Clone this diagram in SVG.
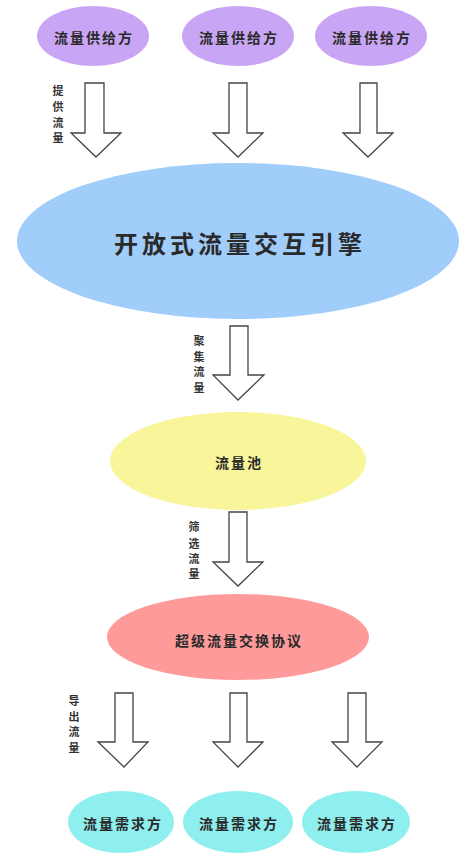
<svg xmlns="http://www.w3.org/2000/svg" width="476" height="862" viewBox="0 0 476 862">
<style>
.t{font-family:"Noto Sans CJK SC","Noto Sans",sans-serif;font-weight:bold;fill:#2a2a2a;text-anchor:middle;dominant-baseline:central}
.lbl{font-family:"Noto Sans CJK SC","Noto Sans",sans-serif;font-weight:bold;fill:#333;font-size:11px;text-anchor:middle;dominant-baseline:central}
.arr{fill:#fff;stroke:#444;stroke-width:1.3;stroke-linejoin:miter}
.sup{fill:#c9a6f5}
.dem{fill:#8eefee}
</style>
<rect width="476" height="862" fill="#fff"/>
<g id="supplier1"><ellipse class="sup" cx="93" cy="36" rx="56" ry="30"/><text class="t" x="94" y="37" font-size="14" letter-spacing="2">流量供给方</text></g>
<g id="supplier2"><ellipse class="sup" cx="238" cy="36" rx="56" ry="30"/><text class="t" x="239" y="37" font-size="14" letter-spacing="2">流量供给方</text></g>
<g id="supplier3"><ellipse class="sup" cx="371" cy="36" rx="56" ry="30"/><text class="t" x="372" y="37" font-size="14" letter-spacing="2">流量供给方</text></g>
<g id="engine"><ellipse fill="#a0cdfa" cx="238" cy="241" rx="221" ry="78"/><text class="t" x="240" y="242" font-size="24" letter-spacing="4">开放式流量交互引擎</text></g>
<g id="pool"><ellipse fill="#f8f59a" cx="238" cy="461" rx="128" ry="49"/><text class="t" x="239" y="462" font-size="14" letter-spacing="2">流量池</text></g>
<g id="protocol"><ellipse fill="#ff9a9a" cx="238" cy="637" rx="131" ry="43"/><text class="t" x="239" y="640" font-size="14" letter-spacing="2">超级流量交换协议</text></g>
<g id="demand1"><ellipse class="dem" cx="121" cy="822" rx="53" ry="31"/><text class="t" x="123" y="823" font-size="14" letter-spacing="2">流量需求方</text></g>
<g id="demand2"><ellipse class="dem" cx="238" cy="822" rx="55" ry="31"/><text class="t" x="239" y="823" font-size="14" letter-spacing="2">流量需求方</text></g>
<g id="demand3"><ellipse class="dem" cx="356" cy="822" rx="54" ry="31"/><text class="t" x="357" y="823" font-size="14" letter-spacing="2">流量需求方</text></g>
<g id="connectors">
<path class="arr" d="M85 83H104V133H121L96 157L71 133H85Z"/>
<path class="arr" d="M229 83H247V133H263L238 157L213 133H229Z"/>
<path class="arr" d="M360 83H377V133H393L368 157L343 133H360Z"/>
<path class="arr" d="M230 326H248V375H264L238 400L213 375H230Z"/>
<path class="arr" d="M229 512H247V562H263L238 586L213 562H229Z"/>
<path class="arr" d="M115 693H133V742H148L124 767L98 742H115Z"/>
<path class="arr" d="M230 693H247V742H263L238 767L213 742H230Z"/>
<path class="arr" d="M348 693H366V742H382L357 767L332 742H348Z"/>
<g class="lbl">
<text class="lbl" x="58" y="90">提</text><text class="lbl" x="58" y="106">供</text><text class="lbl" x="58" y="122">流</text><text class="lbl" x="58" y="137">量</text>
<text class="lbl" x="199" y="340">聚</text><text class="lbl" x="199" y="356">集</text><text class="lbl" x="199" y="371">流</text><text class="lbl" x="199" y="387">量</text>
<text class="lbl" x="194" y="526">筛</text><text class="lbl" x="194" y="543">选</text><text class="lbl" x="194" y="558">流</text><text class="lbl" x="194" y="573">量</text>
<text class="lbl" x="74" y="700">导</text><text class="lbl" x="74" y="716">出</text><text class="lbl" x="74" y="731">流</text><text class="lbl" x="74" y="747">量</text>
</g>
</g>
</svg>
